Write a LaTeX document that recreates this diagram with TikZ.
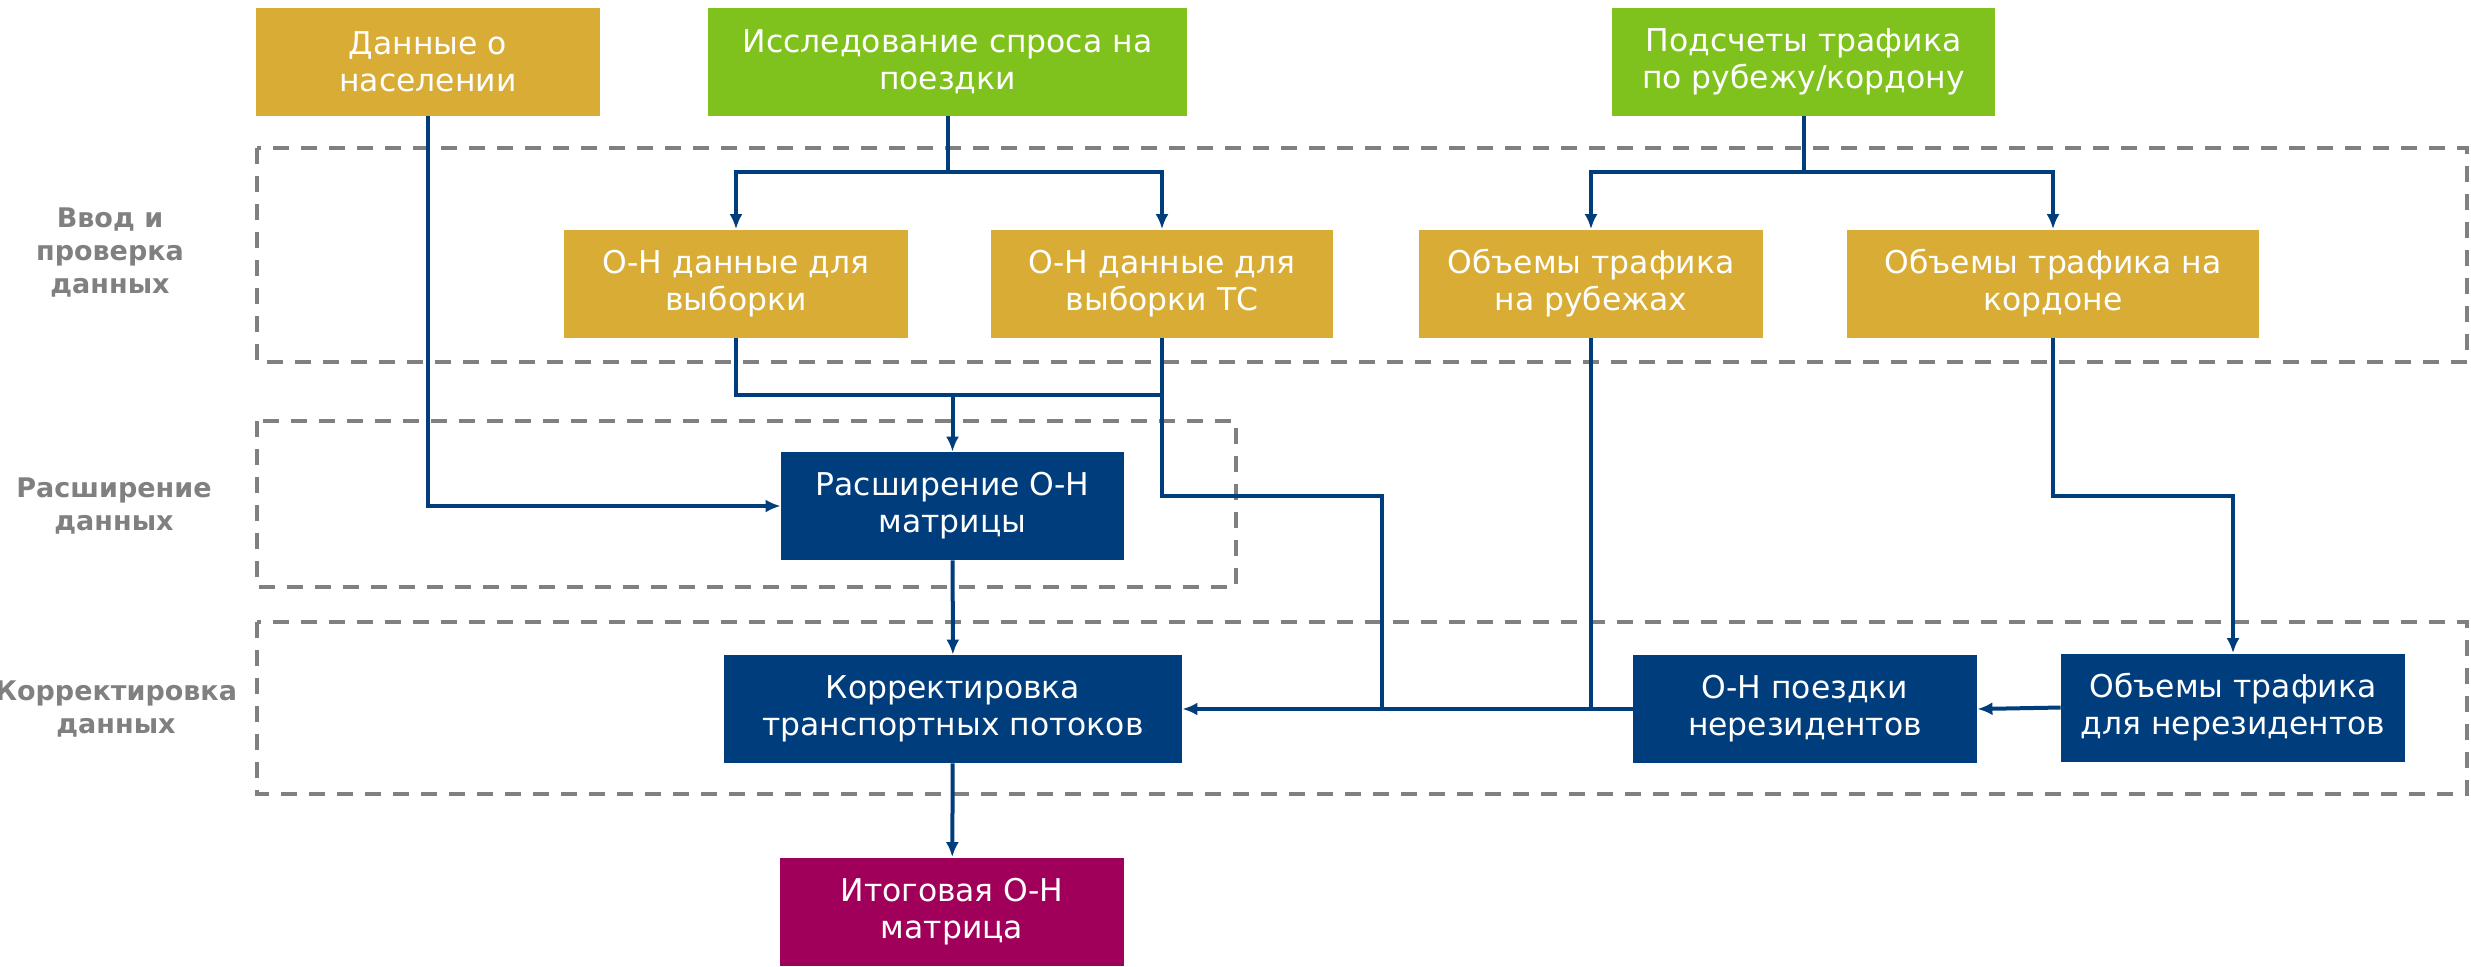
\documentclass[tikz,border=0pt]{standalone}
\usepackage{fontspec}
\setmainfont{DejaVu Sans}
\usetikzlibrary{arrows.meta}

\definecolor{gold}{RGB}{216,172,53}
\definecolor{leaf}{RGB}{127,194,29}
\definecolor{navy}{RGB}{0,61,124}
\definecolor{plum}{RGB}{160,0,90}
\definecolor{frame}{RGB}{128,128,128}

\begin{document}
\begin{tikzpicture}[x=0.5pt, y=-0.5pt, >={Latex[length=7.5pt,width=6.5pt]},
  box/.style={rectangle, text=white, align=center, inner sep=0pt, minimum height=54pt, font=\fontsize{15.7}{18.5}\selectfont},
  gbox/.style={box, fill=gold},
  lbox/.style={box, fill=leaf},
  nbox/.style={box, fill=navy},
  pbox/.style={box, fill=plum},
  stage/.style={align=center, text=frame, font=\bfseries\fontsize{13.5}{16.5}\selectfont},
  zone/.style={frame, line width=2pt, dash pattern=on 8pt off 6pt},
  wire/.style={navy, line width=2pt},
  flow/.style={wire, ->}]
\pgfmathsetmacro\ytop{62}
\pgfmathsetmacro\ysrc{283.5}
\pgfmathsetmacro\yext{506}
\pgfmathsetmacro\ycor{709}
\pgfmathsetmacro\yend{911.5}
\useasboundingbox (0,0) rectangle (2471,966);
\draw[zone] (257,148) rectangle (2467,362);
\draw[zone] (257,421) rectangle (1236,587);
\draw[zone] (257,622) rectangle (2467,794);
\node[stage] (inp) at (110,253) {Ввод и\\проверка\\данных};
\node[stage] (ext) at (114,\yext) {Расширение\\данных};
\node[stage] (cor) at (116,\ycor) {Корректировка\\данных};
\node[gbox, minimum width=172pt] (pop) at (428,\ytop) {Данные о\\населении};
\node[lbox, minimum width=239.5pt] (survey) at (947.5,\ytop) {Исследование спроса на\\поездки};
\node[lbox, minimum width=191.5pt] (counts) at (1803.5,\ytop) {Подсчеты трафика\\по рубежу/кордону};
\node[gbox, minimum width=172pt] (odsamp) at (736,\ysrc) {О-Н данные для\\выборки};
\node[gbox, minimum width=171pt] (odtc) at (1162,\ysrc) {О-Н данные для\\выборки ТС};
\node[gbox, minimum width=172pt] (screen) at (1591,\ysrc) {Объемы трафика\\на рубежах};
\node[gbox, minimum width=206pt] (cordon) at (2053,\ysrc) {Объемы трафика на\\кордоне};
\node[nbox, minimum width=171.5pt] (expand) at (952.5,\yext) {Расширение О-Н\\матрицы};
\node[nbox, minimum width=229pt] (adjust) at (953,\ycor) {Корректировка\\транспортных потоков};
\node[nbox, minimum width=172pt] (nonres) at (1805,\ycor) {О-Н поездки\\нерезидентов};
\node[nbox, minimum width=172pt] (cordnr) at (2233,707.5) {Объемы трафика\\для нерезидентов};
\node[pbox, minimum width=172pt] (final) at (952,\yend) {Итоговая О-Н\\матрица};
\coordinate (s1) at (947.5,172);
\coordinate (s2) at (1803.5,172);
\coordinate (m1) at (952.5,395);
\coordinate (j1) at (1382,496);
\coordinate (j2) at (2233,496);
\draw[flow] (survey.south) -- (s1) -| (odsamp.north);
\draw[flow] (s1) -| (odtc.north);
\draw[flow] (counts.south) -- (s2) -| (screen.north);
\draw[flow] (s2) -| (cordon.north);
\draw[wire] (odsamp.south) |- (m1);
\draw[flow] (odtc.south) |- (m1) -- (expand.north);
\draw[flow] (pop.south) |- (expand.west);
\draw[flow] (expand) -- (adjust);
\draw[flow] (adjust) -- (final);
\draw[wire] (odtc.south) |- (j1) -- (j1 |- adjust.east);
\draw[wire] (screen.south) -- (screen.south |- adjust.east);
\draw[flow] (nonres.west) -- (adjust.east);
\draw[flow] (cordon.south) |- (j2) -- (cordnr.north);
\draw[flow] (cordnr.west) -- (nonres.east);
\end{tikzpicture}
\end{document}
